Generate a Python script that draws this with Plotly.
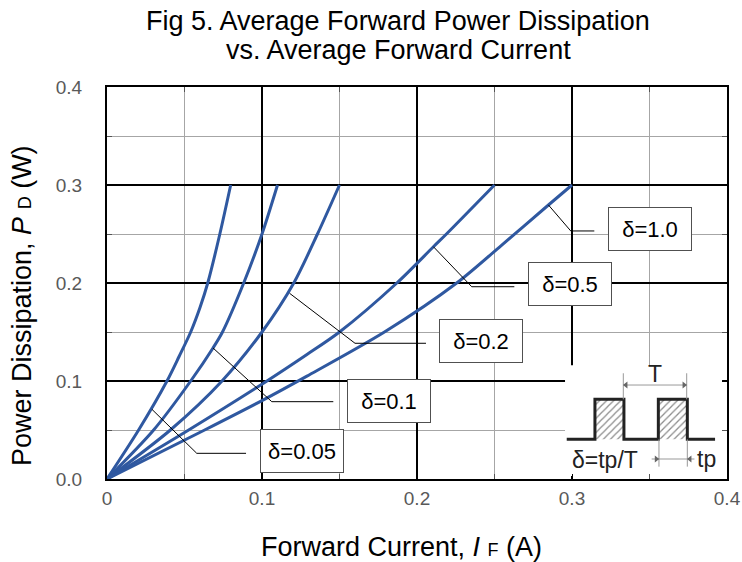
import plotly.graph_objects as go

# ---------------- data ----------------
# Forward current I_F (A) reached at each power level P_D (W), per duty cycle
p_d005 = [0, 0.05, 0.10, 0.125, 0.15, 0.175, 0.20, 0.25, 0.30]
i_d005 = [0, 0.0204, 0.0387, 0.0465, 0.0540, 0.0600, 0.0650, 0.0728, 0.0798]
p_d01 = [0, 0.05, 0.10, 0.1337, 0.15, 0.20, 0.25, 0.30]
i_d01 = [0, 0.0301, 0.054, 0.0684, 0.0745, 0.0882, 0.100, 0.110]
p_d02 = [0, 0.05, 0.10, 0.15, 0.20, 0.25, 0.30]
i_d02 = [0, 0.0409, 0.0742, 0.100, 0.1205, 0.1358, 0.150]
p_d05 = [0, 0.05, 0.10, 0.127, 0.15, 0.20, 0.237, 0.25, 0.30]
i_d05 = [0, 0.0527, 0.1032, 0.129, 0.150, 0.187, 0.2106, 0.219, 0.250]
p_d10 = [0, 0.05, 0.08, 0.105, 0.15, 0.20, 0.2385, 0.2796, 0.30]
i_d10 = [0, 0.063, 0.100, 0.129, 0.179, 0.2256, 0.2545, 0.2848, 0.300]

curve_names = ["δ=0.05", "δ=0.1", "δ=0.2", "δ=0.5", "δ=1.0"]
curve_i = [i_d005, i_d01, i_d02, i_d05, i_d10]
curve_p = [p_d005, p_d01, p_d02, p_d05, p_d10]

# leader lines (I, P) and label positions
leader_i = [[0.029, 0.0579, 0.0897],
            [0.0684, 0.1063, 0.146],
            [0.1178, 0.160, 0.2058],
            [0.2106, 0.2353, 0.2628],
            [0.2848, 0.2992, 0.3144]]
leader_p = [[0.0711, 0.0262, 0.0262],
            [0.1337, 0.0789, 0.0789],
            [0.1895, 0.1385, 0.1385],
            [0.237, 0.1962, 0.1962],
            [0.2796, 0.2531, 0.2531]]
label_i = [0.1255, 0.182, 0.2413, 0.2984, 0.350]
label_p = [0.0286, 0.0800, 0.1413, 0.1985, 0.2556]

# inset pulse diagram (in axis units)
pulse_i = [0.2966, 0.3148, 0.3148, 0.3335, 0.3335, 0.3557, 0.3557, 0.3744, 0.3744, 0.3923]
pulse_p = [0.0405, 0.0405, 0.0813, 0.0813, 0.0405, 0.0405, 0.0813, 0.0813, 0.0405, 0.0405]
pulse1_i = [0.3148, 0.3335, 0.3335, 0.3148, 0.3148]
pulse2_i = [0.3557, 0.3744, 0.3744, 0.3557, 0.3557]
pulse_box_p = [0.0405, 0.0405, 0.0813, 0.0813, 0.0405]
# dimension lines and arrowheads of the inset
dim_i = [0.3331, 0.3331, None, 0.3740, 0.3740, None, 0.3331, 0.3740, None,
         0.3561, 0.3561, None, 0.3744, 0.3744, None, 0.3514, 0.3790]
dim_p = [0.0813, 0.1079, None, 0.0813, 0.1079, None, 0.0959, 0.0959, None,
         0.0405, 0.0126, None, 0.0405, 0.0126, None, 0.0204, 0.0204]
head_i = [0.3348, 0.3723, 0.3544, 0.3761]
head_p = [0.0959, 0.0959, 0.0204, 0.0204]
head_sym = ["triangle-left", "triangle-right", "triangle-right", "triangle-left"]

x_ticks = [0, 0.1, 0.2, 0.3, 0.4]
x_ticklabels = ["0", "0.1", "0.2", "0.3", "0.4"]
y_ticks = [0, 0.1, 0.2, 0.3, 0.4]
y_ticklabels = ["0.0", "0.1", "0.2", "0.3", "0.4"]

# ---------------- figure ----------------
W, H = 742, 562
PL, PR, PT, PB = 107, 727, 87, 479   # plot area in pixels
PW, PH = PR - PL, PB - PT


def px_x(px):
    return (px - PL) / PW


def px_y(py):
    return (PB - py) / PH


BLUE = "#2F58A0"
FONT = "Liberation Sans, Arial, sans-serif"

fig = go.Figure()

for name, xi, yp in zip(curve_names, curve_i, curve_p):
    fig.add_trace(go.Scatter(x=xi, y=yp, mode="lines", name=name,
                             line=dict(color=BLUE, width=3, shape="spline", smoothing=0.8),
                             showlegend=False, hoverinfo="skip"))

for li, lp in zip(leader_i, leader_p):
    fig.add_trace(go.Scatter(x=li, y=lp, mode="lines",
                             line=dict(color="black", width=1),
                             showlegend=False, hoverinfo="skip"))

# inset background
fig.add_shape(type="rect", x0=0.2955, x1=0.3968, y0=0.003, y1=0.116,
              xref="x", yref="y", fillcolor="white", line=dict(width=0), layer="between")

for pi in (pulse1_i, pulse2_i):
    fig.add_trace(go.Scatter(x=pi, y=pulse_box_p, mode="none", fill="toself",
                             fillcolor="rgba(255,255,255,0)",
                             fillpattern=dict(shape="/", fgcolor="#8c8c8c", bgcolor="white",
                                              size=5, solidity=0.25),
                             showlegend=False, hoverinfo="skip"))

fig.add_trace(go.Scatter(x=pulse_i, y=pulse_p, mode="lines",
                         line=dict(color="#222222", width=3),
                         showlegend=False, hoverinfo="skip"))

fig.add_trace(go.Scatter(x=dim_i, y=dim_p, mode="lines", line=dict(color="#999999", width=1),
                         showlegend=False, hoverinfo="skip"))
fig.add_trace(go.Scatter(x=head_i, y=head_p, mode="markers",
                         marker=dict(symbol=head_sym, size=6, color="#666666"),
                         showlegend=False, hoverinfo="skip"))

annotations = []
inset_font = dict(family=FONT, size=23, color="#222222")
annotations.append(dict(x=0.3535, y=0.107, xref="x", yref="y", text="T", showarrow=False,
                        xanchor="center", yanchor="middle", font=inset_font))
annotations.append(dict(x=0.3213, y=0.0194, xref="x", yref="y", text="δ=tp/T", showarrow=False,
                        xanchor="center", yanchor="middle", font=inset_font))
annotations.append(dict(x=0.3866, y=0.0204, xref="x", yref="y", text="tp", showarrow=False,
                        xanchor="center", yanchor="middle", font=inset_font))

# curve labels
for name, xi, yp in zip(curve_names, label_i, label_p):
    annotations.append(dict(x=xi, y=yp, xref="x", yref="y", text=name, showarrow=False,
                            xanchor="center", yanchor="middle",
                            font=dict(family=FONT, size=22, color="black"),
                            bgcolor="white", bordercolor="#505050", borderwidth=1,
                            width=80, height=40, borderpad=1))

# titles
title_font = dict(family=FONT, size=27, color="black")
annotations.append(dict(x=px_x(398), y=px_y(21), xref="paper", yref="paper",
                        xanchor="center", yanchor="middle",
                        text="Fig 5. Average Forward Power Dissipation",
                        showarrow=False, font=title_font))
annotations.append(dict(x=px_x(398), y=px_y(50), xref="paper", yref="paper",
                        xanchor="center", yanchor="middle",
                        text="vs. Average Forward Current",
                        showarrow=False, font=title_font))
annotations.append(dict(x=px_x(401), y=px_y(547), xref="paper", yref="paper",
                        xanchor="center", yanchor="middle",
                        text="Forward Current, <i>I</i> <span style='font-size:18px'>F</span> (A)",
                        showarrow=False, font=title_font))
annotations.append(dict(x=px_x(22), y=px_y(306), xref="paper", yref="paper", textangle=-90,
                        xanchor="center", yanchor="middle",
                        text="Power Dissipation, <i>P</i> <span style='font-size:18px'>D</span> (W)",
                        showarrow=False, font=title_font))

axis_common = dict(range=[0, 0.4], showgrid=True, gridcolor="black", gridwidth=2,
                   minor=dict(dtick=0.05, showgrid=True, gridcolor="#A6A6A6", gridwidth=1,
                              ticks="inside", ticklen=5, tickcolor="#555555"),
                   showline=True, linecolor="black", linewidth=2, mirror="ticks",
                   zeroline=False, ticks="inside", ticklen=5, tickcolor="black",
                   tickmode="array", automargin=False,
                   tickfont=dict(family=FONT, size=19, color="#595959"))

fig.update_xaxes(**axis_common, tickvals=x_ticks, ticktext=x_ticklabels, ticklabelstandoff=1)
fig.update_yaxes(**axis_common, tickvals=y_ticks, ticktext=y_ticklabels, ticklabelstandoff=19)

fig.update_layout(template="none", width=W, height=H,
                  margin=dict(l=PL, r=W - PR, t=PT, b=H - PB),
                  paper_bgcolor="white", plot_bgcolor="white",
                  annotations=annotations, showlegend=False)

# place the figure at the page origin (no default body margin, no scrollbars)
page_css = ("document.body.style.margin='0';"
            "document.documentElement.style.overflow='hidden';"
            "document.body.style.overflow='hidden';")
fig.write_html("out.html", post_script=page_css, config={"displayModeBar": False})
